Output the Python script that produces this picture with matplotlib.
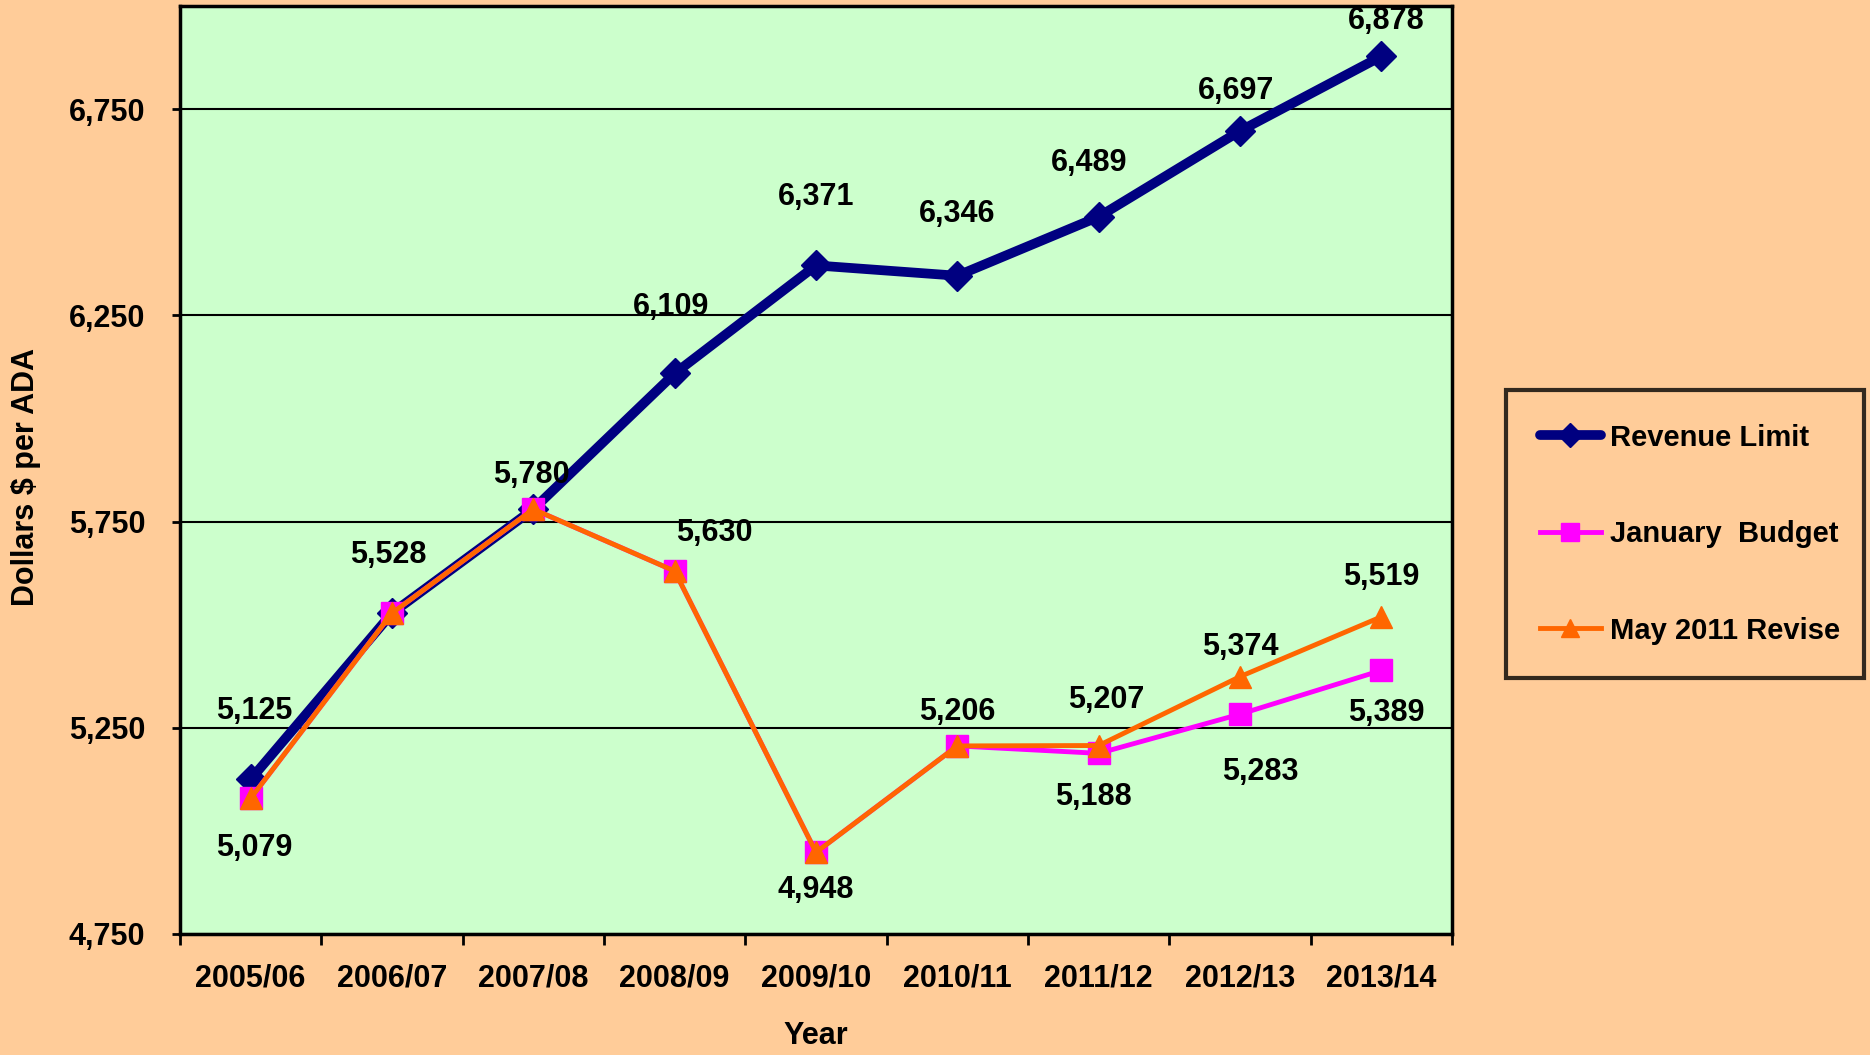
import matplotlib
matplotlib.use("Agg")
from matplotlib import pyplot as plt

years = ["2005/06", "2006/07", "2007/08", "2008/09", "2009/10",
         "2010/11", "2011/12", "2012/13", "2013/14"]
revenue_limit = [5125, 5528, 5780, 6109, 6371, 6346, 6489, 6697, 6878]
january_budget = [5079, 5528, 5780, 5630, 4948, 5206, 5188, 5283, 5389]
may_revise = [5079, 5528, 5780, 5630, 4948, 5206, 5207, 5374, 5519]

# which labels to show and where (pixel offsets from the point)
rev_offsets = [(4, 68), (-4, 58), (-2, 34), (-4, 66), (0, 68),
               (0, 62), (-10, 54), (-4, 40), (5, 35)]
jan_labels = {0: (4, -50), 3: (40, 38), 4: (0, -38), 5: (0, 34),
              6: (-5, -44), 7: (20, -58), 8: (5, -43)}
may_labels = {6: (8, 46), 7: (0, 30), 8: (0, 40)}

bg = "#FFCC99"
plot_bg = "#CCFFCC"
font = "Liberation Sans"
fs = 22

plt.rcParams["font.family"] = [font, "DejaVu Sans"]
plt.rcParams["font.weight"] = "bold"

fig = plt.figure(figsize=(18.7, 10.55), dpi=100, facecolor=bg)
ax = fig.add_axes([180 / 1870, (1055 - 934) / 1055, 1272 / 1870, 928 / 1055])
ax.set_facecolor(plot_bg)

x = list(range(1, len(years) + 1))

ax.plot(x, revenue_limit, color="#000080", lw=7, marker="D", ms=15,
        label="Revenue Limit", zorder=3, solid_capstyle="round")
ax.plot(x, january_budget, color="#FF00FF", lw=3.5, marker="s", ms=16,
        label="January  Budget", zorder=4)
ax.plot(x, may_revise, color="#FF6600", lw=3.5, marker="^", ms=16,
        label="May 2011 Revise", zorder=5)

for i, v in enumerate(revenue_limit):
    ax.annotate(f"{v:,}", (x[i], v), xytext=rev_offsets[i], textcoords="offset pixels",
                ha="center", va="center", fontsize=fs, fontweight="bold")
for i, off in jan_labels.items():
    ax.annotate(f"{january_budget[i]:,}", (x[i], january_budget[i]), xytext=off,
                textcoords="offset pixels", ha="center", va="center",
                fontsize=fs, fontweight="bold")
for i, off in may_labels.items():
    ax.annotate(f"{may_revise[i]:,}", (x[i], may_revise[i]), xytext=off,
                textcoords="offset pixels", ha="center", va="center",
                fontsize=fs, fontweight="bold")

ax.set_xlim(0.5, len(years) + 0.5)
ax.set_ylim(4750, 7000)
ax.set_yticks([4750, 5250, 5750, 6250, 6750])
ax.set_yticklabels([f"{t:,}" for t in [4750, 5250, 5750, 6250, 6750]],
                   fontsize=fs, fontweight="bold")
ax.yaxis.grid(True, color="black", lw=1.5)
ax.set_axisbelow(True)

ax.set_xticks([i + 0.5 for i in range(0, len(years) + 1)])
ax.set_xticklabels([])
ax.set_xticks(x, minor=True)
ax.set_xticklabels(years, minor=True, fontsize=fs, fontweight="bold")
ax.tick_params(axis="x", which="major", direction="out", length=8, width=2)
ax.tick_params(axis="x", which="minor", length=0, pad=21)
ax.tick_params(axis="y", direction="out", length=6, width=2, pad=19)

for s in ax.spines.values():
    s.set_linewidth(2.5)
    s.set_color("black")

ax.set_xlabel("Year", fontsize=fs, fontweight="bold", labelpad=20)
fig.text(26 / 1870, 1 - 477 / 1055, "Dollars $ per ADA", rotation=90,
         ha="center", va="center", fontsize=fs, fontweight="bold")

leg = fig.legend(loc="upper left",
                 bbox_to_anchor=(1506 / 1870, 1 - 390 / 1055, 358 / 1870, 0),
                 mode="expand", borderaxespad=0, frameon=True, fancybox=False,
                 facecolor=bg, edgecolor="black",
                 prop={"size": 21, "weight": "bold"},
                 labelspacing=2.35, handlelength=2.1, handletextpad=0.3,
                 borderpad=1.15, markerscale=0.8)
leg.get_frame().set_linewidth(3)

fig.savefig("out.png", dpi=100, facecolor=bg)
